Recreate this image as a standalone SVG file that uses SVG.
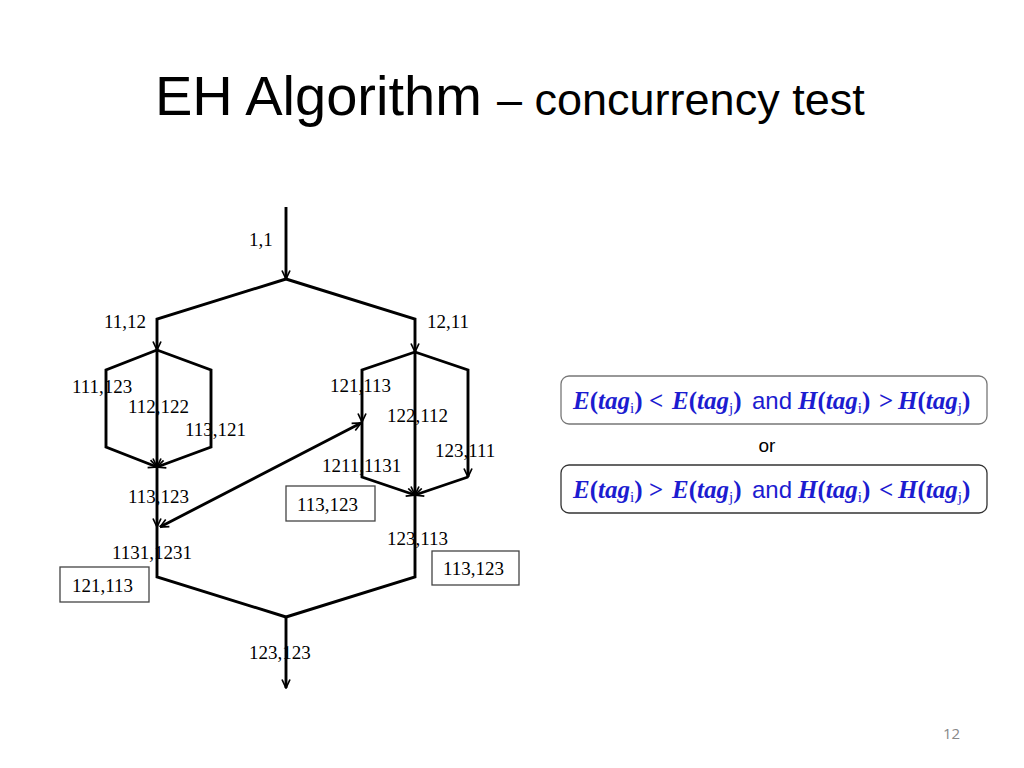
<svg xmlns="http://www.w3.org/2000/svg" width="1024" height="768" viewBox="0 0 1024 768">
<defs>
<style>
.lbl{font-family:"Liberation Serif","Times New Roman",serif;font-size:19px;fill:#000}
.ln{fill:none;stroke:#000;stroke-width:2.9;stroke-linejoin:miter}
.box{fill:#fff;stroke:#444;stroke-width:1.3}
.f{font-family:"Liberation Serif","Times New Roman",serif;font-size:25px;font-weight:bold;font-style:italic;fill:#1c1cd0}
.p{font-style:normal}
.s{font-size:15px;font-weight:normal;font-style:normal}
.a{font-family:"Liberation Sans",Arial,sans-serif;font-weight:normal;font-style:normal;font-size:24px}
</style>
<marker id="ar" viewBox="0 0 10 10" refX="9.5" refY="5" markerWidth="10" markerHeight="10" markerUnits="userSpaceOnUse" orient="auto-start-reverse">
<path d="M1,1 L9.5,5 L1,9" fill="none" stroke="#000" stroke-width="1.7"/>
</marker>
</defs>
<rect width="1024" height="768" fill="#fff"/>
<g id="title">
<text x="155" y="115" font-family="Liberation Sans,Arial,sans-serif" font-size="56" fill="#000">EH Algorithm<tspan x="497" font-size="45">– concurrency test</tspan></text>
</g>
<g id="connectors">
<path class="ln" d="M286,207 V279" marker-end="url(#ar)"/>
<path class="ln" d="M286,279 L157,319 V350" marker-end="url(#ar)"/>
<path class="ln" d="M286,279 L415,319 V352" marker-end="url(#ar)"/>
<path class="ln" d="M157,350 V467" marker-end="url(#ar)"/>
<path class="ln" d="M157,350 L106,370 V447 L157,467" marker-end="url(#ar)"/>
<path class="ln" d="M157,350 L211,370 V447 L157,467" marker-end="url(#ar)"/>
<path class="ln" d="M157,467 V527" marker-end="url(#ar)"/>
<path class="ln" d="M160,527 L361,423" marker-start="url(#ar)" marker-end="url(#ar)"/>
<path class="ln" d="M157,527 V577 L286,617"/>
<path class="ln" d="M415,352 V495" marker-end="url(#ar)"/>
<path class="ln" d="M415,352 L362,370 V422" marker-end="url(#ar)"/>
<path class="ln" d="M362,422 V477 L415,495" marker-end="url(#ar)"/>
<path class="ln" d="M415,352 L468,370 V477" marker-end="url(#ar)"/>
<path class="ln" d="M468,477 L415,495" marker-end="url(#ar)"/>
<path class="ln" d="M415,495 V577 L286,617"/>
<path class="ln" d="M286,617 V688" marker-end="url(#ar)"/>
</g>
<g id="n-1-1"><text class="lbl" x="249" y="246">1,1</text></g>
<g id="n-11-12"><text class="lbl" x="104" y="328">11,12</text></g>
<g id="n-12-11"><text class="lbl" x="427" y="328">12,11</text></g>
<g id="n-111-123"><text class="lbl" x="72" y="393">111,123</text></g>
<g id="n-112-122"><text class="lbl" x="128" y="413">112,122</text></g>
<g id="n-113-121"><text class="lbl" x="185" y="436">113,121</text></g>
<g id="n-121-113"><text class="lbl" x="330" y="392">121,113</text></g>
<g id="n-122-112"><text class="lbl" x="387" y="422">122,112</text></g>
<g id="n-123-111"><text class="lbl" x="435" y="457">123,111</text></g>
<g id="n-1211-1131"><text class="lbl" x="322" y="472">1211,1131</text></g>
<g id="n-113-123"><text class="lbl" x="128" y="503">113,123</text></g>
<g id="n-1131-1231"><text class="lbl" x="112" y="559">1131,1231</text></g>
<g id="n-123-113"><text class="lbl" x="387" y="545">123,113</text></g>
<g id="n-123-123"><text class="lbl" x="249" y="659">123,123</text></g>
<g id="box-mid"><rect class="box" x="286" y="486" width="89" height="35"/><text class="lbl" x="297" y="511">113,123</text></g>
<g id="box-right"><rect class="box" x="432" y="551" width="87" height="34"/><text class="lbl" x="443" y="575">113,123</text></g>
<g id="box-left"><rect class="box" x="60" y="567" width="89" height="35"/><text class="lbl" x="72" y="592">121,113</text></g>
<g id="cond1">
<rect x="561" y="376" width="426" height="48" rx="8" fill="#fff" stroke="#777" stroke-width="1.3"/>
<text class="f" y="409"><tspan x="573">E<tspan class="p">(</tspan>tag<tspan class="s" dy="4">i</tspan><tspan class="p" dy="-4">)</tspan></tspan><tspan x="649" class="p">&lt;</tspan><tspan x="672">E<tspan class="p">(</tspan>tag<tspan class="s" dy="4">j</tspan><tspan class="p" dy="-4">)</tspan></tspan><tspan x="752" class="a">and</tspan><tspan x="798">H<tspan class="p">(</tspan>tag<tspan class="s" dy="4">i</tspan><tspan class="p" dy="-4">)</tspan></tspan><tspan x="879" class="p">&gt;</tspan><tspan x="898">H<tspan class="p">(</tspan>tag<tspan class="s" dy="4">j</tspan><tspan class="p" dy="-4">)</tspan></tspan></text>
</g>
<g id="or"><text x="767" y="452" text-anchor="middle" font-family="Liberation Sans,Arial,sans-serif" font-size="19" fill="#000">or</text></g>
<g id="cond2">
<rect x="561" y="465" width="426" height="48" rx="8" fill="#fff" stroke="#333" stroke-width="1.3"/>
<text class="f" y="498"><tspan x="573">E<tspan class="p">(</tspan>tag<tspan class="s" dy="4">i</tspan><tspan class="p" dy="-4">)</tspan></tspan><tspan x="649" class="p">&gt;</tspan><tspan x="672">E<tspan class="p">(</tspan>tag<tspan class="s" dy="4">j</tspan><tspan class="p" dy="-4">)</tspan></tspan><tspan x="752" class="a">and</tspan><tspan x="798">H<tspan class="p">(</tspan>tag<tspan class="s" dy="4">i</tspan><tspan class="p" dy="-4">)</tspan></tspan><tspan x="879" class="p">&lt;</tspan><tspan x="898">H<tspan class="p">(</tspan>tag<tspan class="s" dy="4">j</tspan><tspan class="p" dy="-4">)</tspan></tspan></text>
</g>
<g id="page"><text x="943" y="739" font-family="Open Sans,Liberation Sans,sans-serif" font-size="15" fill="#888">12</text></g>
</svg>
